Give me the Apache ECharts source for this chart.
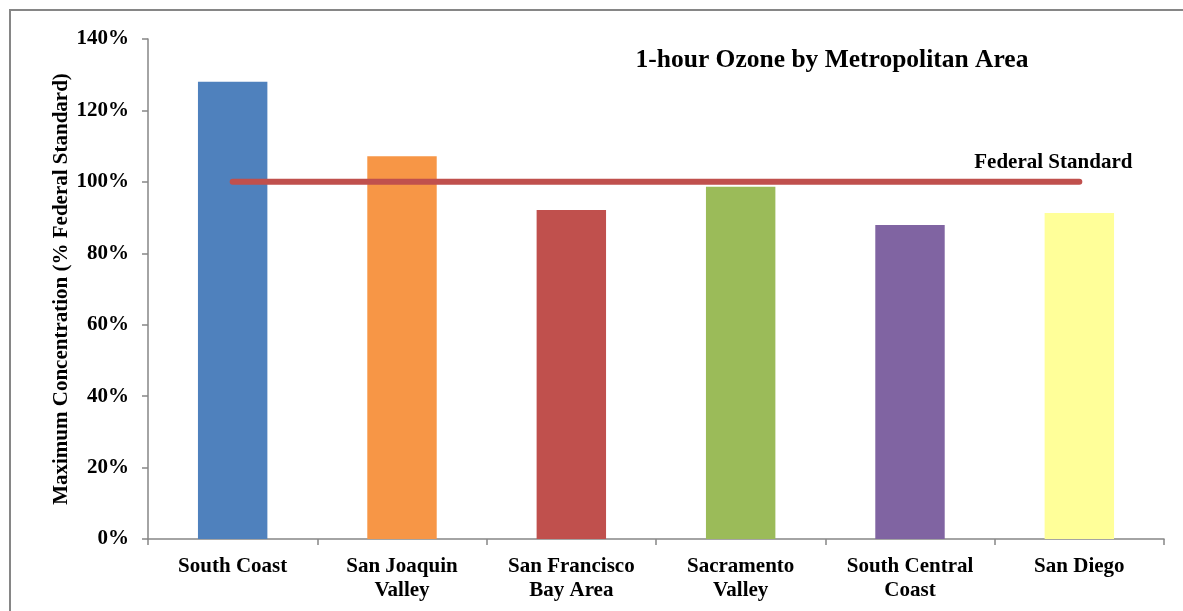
<!DOCTYPE html>
<html>
<head>
<meta charset="utf-8">
<script src="https://cdn.jsdelivr.net/npm/echarts@6/dist/echarts.min.js"></script>
<style>html,body{margin:0;padding:0;background:#fff}#c{width:1183px;height:611px}</style>
</head>
<body>
<div id="c"></div>
<script>
const categories = ['South Coast', 'San Joaquin\nValley', 'San Francisco\nBay Area', 'Sacramento\nValley', 'South Central\nCoast', 'San Diego'];
const concentration = [128.0, 107.2, 92.1, 98.6, 87.9, 91.3];
const barColors = ['#4f81bd', '#f79646', '#c0504d', '#9bbb59', '#8064a2', '#ffff99'];
const federalStandard = [100, 100, 100, 100, 100, 100];
const yTicks = [0, 20, 40, 60, 80, 100, 120, 140];

const FONT = '"Liberation Serif", "Times New Roman", serif';
const chart = echarts.init(document.getElementById('c'));
chart.setOption({
  animation: false,
  backgroundColor: '#fff',
  graphic: [{
    type: 'rect',
    shape: { x: 10, y: 10, width: 1200, height: 640 },
    style: { fill: 'none', stroke: '#868686', lineWidth: 2 },
    silent: true, z: -10
  }],
  title: {
    text: '1-hour Ozone by Metropolitan Area',
    left: 827, top: 42, textAlign: 'center',
    textStyle: { fontFamily: FONT, fontWeight: 'bold', fontSize: 25.5, color: '#000' }
  },
  grid: { left: 148, right: 19, top: 39, bottom: 72, containLabel: false },
  xAxis: {
    type: 'category', data: categories,
    axisLine: { lineStyle: { color: '#868686', width: 1.5 } },
    axisTick: { show: true, length: 6, lineStyle: { color: '#868686', width: 1.5 } },
    axisLabel: { fontFamily: FONT, fontWeight: 'bold', fontSize: 21, color: '#000', margin: 16, lineHeight: 24 }
  },
  yAxis: {
    type: 'value', min: 0, max: 140, interval: 20,
    name: 'Maximum Concentration (% Federal Standard)',
    nameLocation: 'middle', nameGap: 76, nameRotate: 90, nameMoveOverlap: false,
    nameTextStyle: { fontFamily: FONT, fontWeight: 'bold', fontSize: 21, color: '#000' },
    axisLine: { show: true, lineStyle: { color: '#868686', width: 1.5 } },
    axisTick: { show: true, length: 6, lineStyle: { color: '#868686', width: 1.5 } },
    splitLine: { show: false },
    axisLabel: {
      fontFamily: FONT, fontWeight: 'bold', fontSize: 21, color: '#000', margin: 19,
      formatter: v => yTicks.includes(v) ? v + '%' : ''
    }
  },
  series: [{
    type: 'bar',
    data: concentration.map((v, i) => ({ value: v, itemStyle: { color: barColors[i] } })),
    barWidth: '41%'
  }, {
    type: 'line',
    data: federalStandard,
    symbol: 'none',
    lineStyle: { color: '#c0504d', width: 6, cap: 'round' },
    z: 5,
    endLabel: {
      show: true, formatter: 'Federal Standard',
      align: 'center', verticalAlign: 'middle',
      offset: [-34, -19],
      fontFamily: FONT, fontWeight: 'bold', fontSize: 21, color: '#000'
    }
  }]
});
</script>
</body>
</html>
